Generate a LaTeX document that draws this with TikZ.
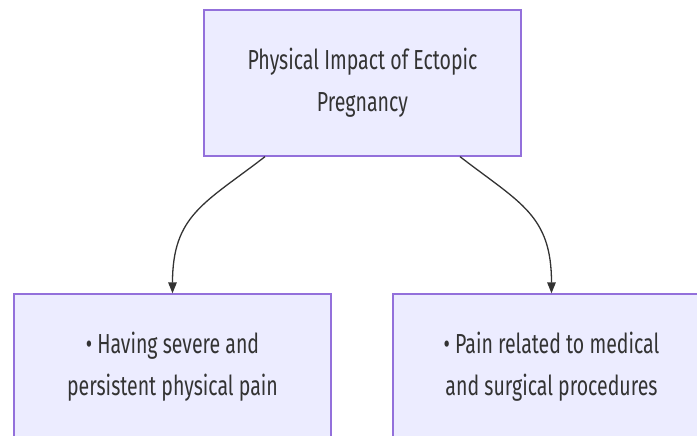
\documentclass[tikz,border=0pt]{standalone}
\usepackage{fontspec}
\setmainfont{Fira Sans}[FakeStretch=0.71]
\usetikzlibrary{arrows.meta}
\definecolor{boxfill}{HTML}{ECECFF}
\definecolor{boxline}{HTML}{9370DB}
\definecolor{txt}{HTML}{333333}
\tikzset{
  mbox/.style={draw=boxline, fill=boxfill, line width=1.3pt, minimum width=317pt, minimum height=146pt,
    inner sep=0pt, align=center, text=txt, font=\fontsize{27.5}{42}\selectfont},
  arr/.style={draw=txt, line width=1.3pt, -{Triangle[length=11pt,width=8.5pt]}}
}
\begin{document}
\begin{tikzpicture}[x=1pt,y=-1pt]
\useasboundingbox (0,0) rectangle (697,436);
\clip (0,0) rectangle (697,436);
\node[mbox] (top) at (362.5,83) {Physical Impact of Ectopic\\Pregnancy};
\node[mbox] (bl) at (172.5,367) {• Having severe and\\persistent physical pain};
\node[mbox] (br) at (551.5,367) {• Pain related to medical\\and surgical procedures};
\draw[arr] ([xshift=-97.5pt]top.south) .. controls (205,203) and (172.5,215) .. (bl.north);
\draw[arr] ([xshift=97.5pt]top.south) .. controls (520,203) and (551.5,215) .. (br.north);
\end{tikzpicture}
\end{document}
